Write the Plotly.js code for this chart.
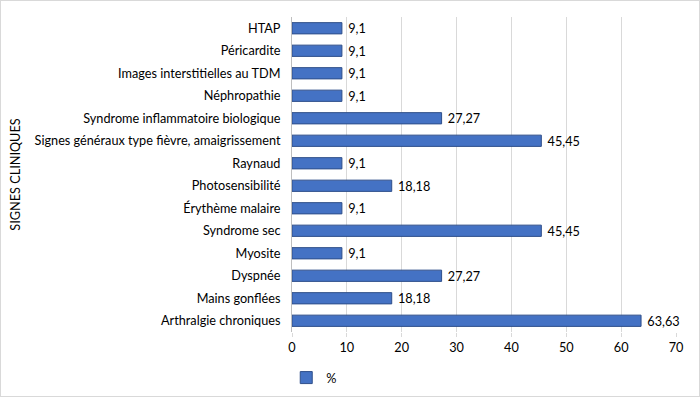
<!DOCTYPE html>
<html>
<head>
<meta charset="utf-8">
<script src="https://cdn.plot.ly/plotly-3.0.1.min.js"></script>
<style>
html,body{margin:0;padding:0;background:#fff;}
#chart{position:absolute;left:0;top:0;width:698px;height:395px;border:1px solid #d9d9d9;}
</style>
</head>
<body>
<div id="chart"></div>
<script>
// Categories listed bottom to top
const categories = [
  "Arthralgie chroniques",
  "Mains gonflées",
  "Dyspnée",
  "Myosite",
  "Syndrome sec",
  "Érythème malaire",
  "Photosensibilité",
  "Raynaud",
  "Signes généraux type fièvre, amaigrissement",
  "Syndrome inflammatoire biologique",
  "Néphropathie",
  "Images interstitielles au TDM",
  "Péricardite",
  "HTAP"
];
const values = [63.63, 18.18, 27.27, 9.1, 45.45, 9.1, 18.18, 9.1, 45.45, 27.27, 9.1, 9.1, 9.1, 9.1];
const xTicks = [0, 10, 20, 30, 40, 50, 60, 70];
const seriesName = "%";
const axisTitle = "SIGNES CLINIQUES";

const labels = values.map(v => ' ' + String(v).replace('.', ','));
const FONT = "Lato, 'Open Sans', sans-serif";
const FS = 12.7;

const trace = {
  type: 'bar',
  orientation: 'h',
  y: categories,
  x: values,
  name: seriesName,
  text: labels,
  textposition: 'outside',
  constraintext: 'none',
  cliponaxis: false,
  textfont: {family: FONT, size: FS, color: '#000'},
  marker: {color: '#4472C4', line: {color: '#2F4F8A', width: 1}},
  width: 0.5,
  hoverinfo: 'x+y'
};

const layout = {
  width: 698,
  height: 395,
  margin: {l: 291, r: 23, t: 16, b: 64},
  paper_bgcolor: '#fff',
  plot_bgcolor: '#fff',
  font: {family: FONT, size: FS, color: '#000'},
  showlegend: true,
  legend: {
    orientation: 'h',
    xref: 'paper',
    x: -0.015, xanchor: 'left',
    yref: 'container',
    y: 0.046, yanchor: 'middle',
    font: {family: FONT, size: FS, color: '#000'}
  },
  xaxis: {
    range: [0, 70],
    tickvals: xTicks,
    ticktext: xTicks.map(String),
    showgrid: true,
    gridcolor: '#d9d9d9',
    gridwidth: 1,
    zeroline: false,
    showline: false,
    ticks: 'outside',
    ticklen: 4,
    tickcolor: '#d9d9d9',
    ticklabelstandoff: 0,
    tickfont: {family: FONT, size: FS, color: '#000'},
    automargin: false,
    fixedrange: true
  },
  yaxis: {
    type: 'category',
    categoryorder: 'array',
    categoryarray: categories,
    showline: true,
    linecolor: '#bfbfbf',
    linewidth: 1,
    ticks: '',
    ticklabelstandoff: 8,
    tickfont: {family: FONT, size: FS, color: '#000'},
    title: {text: axisTitle, font: {family: FONT, size: FS, color: '#000'}, standoff: 11},
    automargin: false,
    fixedrange: true
  }
};

Plotly.newPlot('chart', [trace], layout, {displayModeBar: false, staticPlot: true});
</script>
</body>
</html>
